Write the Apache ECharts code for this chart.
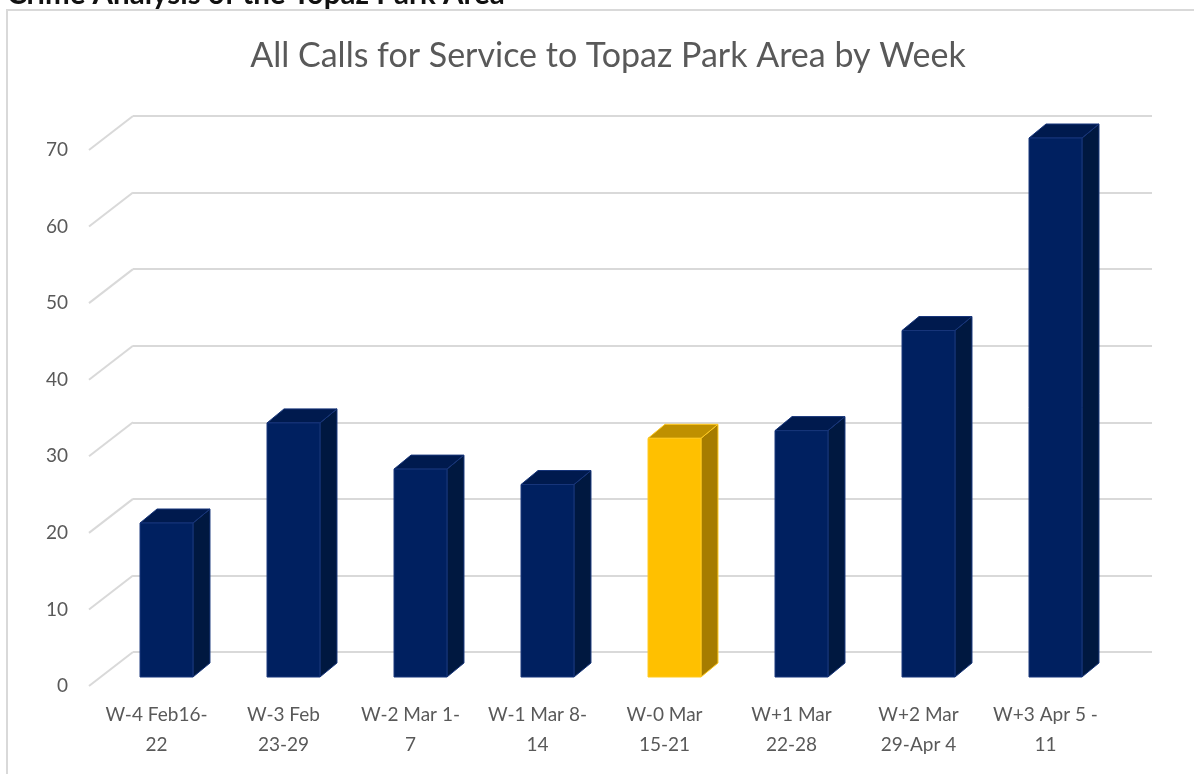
<!DOCTYPE html>
<html><head><meta charset="utf-8">
<script src="https://cdn.jsdelivr.net/npm/echarts@6/dist/echarts.min.js"></script>
<style>html,body{margin:0;padding:0;background:#fff}#c{width:1194px;height:774px}</style>
</head><body><div id="c"></div>
<script>
const pageHeading = 'Crime Analysis of the Topaz Park Area';
const chartTitle = 'All Calls for Service to Topaz Park Area by Week';
const categories = ['W-4 Feb16-\n22', 'W-3 Feb\n23-29', 'W-2 Mar 1-\n7', 'W-1 Mar 8-\n14', 'W-0 Mar\n15-21', 'W+1 Mar\n22-28', 'W+2 Mar\n29-Apr 4', 'W+3 Apr 5 -\n11'];
const calls = [20, 33, 27, 25, 31, 32, 45, 70];
const highlightIndex = 4;
const yTicks = [0, 10, 20, 30, 40, 50, 60, 70];

const FONT = 'Lato';
const TXT = '#595959';
const GRIDC = '#d9d9d9';
const NAVY = { front: '#002060', side: '#001840', top: '#001a4e', edge: '#17357a' };
const GOLD = { front: '#FFC000', side: '#A67C00', top: '#BF9000', edge: '#FFC91f' };

const chart = echarts.init(document.getElementById('c'), null, { renderer: 'canvas' });

const option = {
  backgroundColor: '#fff',
  animation: false,
  title: {
    text: chartTitle,
    left: 603, top: 34, textAlign: 'center',
    textStyle: { fontFamily: FONT, fontSize: 34, fontWeight: 'normal', color: TXT }
  },
  graphic: [
    { type: 'rect', z: -10, silent: true, shape: { x: 7, y: 10, width: 1300, height: 900 },
      style: { fill: 'none', stroke: GRIDC, lineWidth: 2 } },
    { type: 'text', left: 7, top: -21, silent: true,
      style: { text: pageHeading, font: 'bold 29.5px ' + FONT, fill: '#111' } }
  ],
  grid: [
    { left: 133, top: 116, width: 1019, height: 536 },   // back wall
    { left: 103, top: 138, width: 1016, height: 539 },   // bars
    { left: 93, top: 150, width: 1016, height: 536 }     // labels
  ],
  xAxis: [
    { gridIndex: 0, type: 'value', min: 0, max: 1, show: false },
    { gridIndex: 1, type: 'category', data: categories, show: false },
    { gridIndex: 2, type: 'category', data: categories,
      axisLine: { show: false }, axisTick: { show: false }, splitLine: { show: false },
      axisLabel: { interval: 0, margin: 14, fontFamily: FONT, fontSize: 19, lineHeight: 30, color: TXT } }
  ],
  yAxis: [
    { gridIndex: 0, type: 'value', min: 0, max: 70, interval: 10,
      axisLine: { show: false }, axisTick: { show: false }, axisLabel: { show: false },
      splitLine: { show: true, lineStyle: { color: GRIDC, width: 2 } } },
    { gridIndex: 1, type: 'value', min: 0, max: 70, interval: 10, show: false, splitLine: { show: false } },
    { gridIndex: 2, type: 'value', min: 0, max: 70, interval: 10,
      axisLine: { show: false }, axisTick: { show: false }, splitLine: { show: false },
      axisLabel: { margin: 25, fontFamily: FONT, fontSize: 19, color: TXT } }
  ],
  series: [
    {
      type: 'custom', xAxisIndex: 0, yAxisIndex: 0, silent: true, z: 1,
      data: yTicks.map(v => [0, v]),
      renderItem(params, api) {
        const p = api.coord([0, api.value(1)]);
        return { type: 'line', shape: { x1: p[0], y1: p[1], x2: p[0] - 44, y2: p[1] + 34 },
          style: { stroke: GRIDC, lineWidth: 2 } };
      }
    },
    {
      type: 'custom', xAxisIndex: 1, yAxisIndex: 1, z: 5,
      data: calls.map((v, i) => [i, v]),
      renderItem(params, api) {
        const i = api.value(0), v = api.value(1);
        const base = api.coord([i, 0]);
        const top = api.coord([i, v]);
        const w = api.size([1, 0])[0] * 0.417;
        const x0 = base[0] - w / 2, x1 = base[0] + w / 2;
        const yb = base[1], yt = top[1];
        const dx = 17, dy = -14;
        const c = i === highlightIndex ? GOLD : NAVY;
        const st = (f) => ({ fill: f, stroke: c.edge, lineWidth: 1, lineJoin: 'round' });
        return { type: 'group', children: [
          { type: 'polygon', shape: { points: [[x1, yb], [x1 + dx, yb + dy], [x1 + dx, yt + dy], [x1, yt]] }, style: st(c.side) },
          { type: 'polygon', shape: { points: [[x0, yt], [x1, yt], [x1 + dx, yt + dy], [x0 + dx, yt + dy]] }, style: st(c.top) },
          { type: 'rect', shape: { x: x0, y: yt, width: w, height: yb - yt }, style: st(c.front) }
        ] };
      }
    }
  ]
};
chart.setOption(option);
</script>
</body></html>
